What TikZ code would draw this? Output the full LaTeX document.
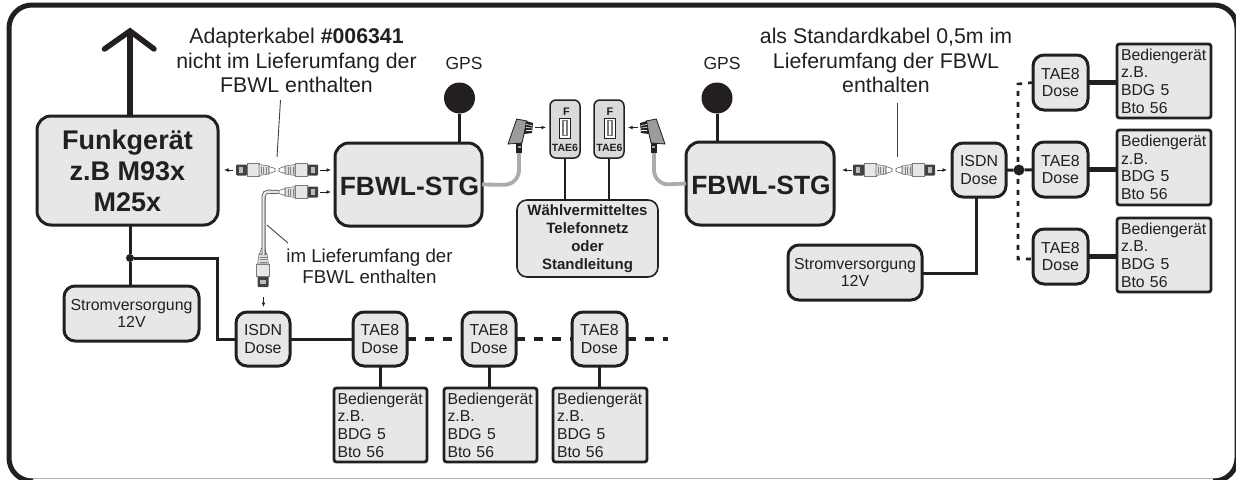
\documentclass[tikz,border=0pt]{standalone}
\usepackage{fontspec}
\setmainfont{Liberation Sans}
\usetikzlibrary{arrows.meta}
\definecolor{ink}{HTML}{231F20}
\definecolor{boxfill}{HTML}{E6E7E8}
\definecolor{tfill}{HTML}{D9DADB}
\definecolor{cablegray}{HTML}{ABABAB}
\newcommand{\fs}[2]{\fontsize{#1}{#2}\selectfont}
\tikzset{
  x=1pt,y=-1pt,
  box/.style={draw=ink,fill=boxfill,line width=3,rounded corners=#1,inner sep=0pt,outer sep=0pt,text=ink,align=center},
  box/.default=13,
  bed/.style={draw=ink,fill=boxfill,line width=2.8,rounded corners=2.5,inner sep=0pt,outer sep=0pt,text=ink,align=left,text width=86,font=\fs{15.8}{17.6}},
  dose/.style={box=11,font=\fs{15.9}{17.5}},
  strom/.style={box=11,font=\fs{15.9}{17.5}},
  stg/.style={box=14,font=\bfseries\fs{26.4}{30},text height=23pt},
  txt/.style={inner sep=0pt,outer sep=0pt,text=ink,align=center},
  wire/.style={draw=ink,line width=3},
  thin wire/.style={draw=ink,line width=1.5},
  thick wire/.style={draw=ink,line width=4.5},
  dash wire/.style={draw=ink,line width=3.8,dash pattern=on 9pt off 9pt},
  dot wire/.style={draw=ink,line width=2.6,dash pattern=on 5pt off 6pt},
  leader/.style={draw=ink!85,line width=0.9},
  mini/.style={draw=ink,line width=1,-{Latex[length=4.5pt,width=4pt]}},
  cable/.style={draw=cablegray,line width=3.8},
  dot/.style={circle,fill=ink,inner sep=0pt,outer sep=0pt,minimum size=#1},
}
% box by outer extents
\newcommand{\bx}[7]{\node[#6,minimum width={#4-#2-2},minimum height={#5-#3-2}] (#1) at ({(#2+#4)/2},{(#3+#5)/2}) {#7};}
% adapter plug: dark end at x=0, tip at x=40
\newcommand{\adplug}[1]{\begin{scope}[#1]
  \fill[ink!85,rounded corners=1] (0,-5.5) rectangle (11,5.5);
  \fill[ink!30] (3,-3) rectangle (7,3);
  \draw[ink!60,fill=boxfill,line width=0.6] (11,-6.5) rectangle (23,6.5);
  \draw[ink!60,fill=ink!15,line width=0.6] (23,-5.5) -- (33,-4) -- (33,4) -- (23,5.5) -- cycle;
  \draw[ink!55,line width=0.5] (25,-3.5) -- (25,3.5) (27.5,-3.5) -- (27.5,3.5) (30,-3.5) -- (30,3.5);
  \draw[ink!75,fill=white,line width=0.6] (33,-3.5) -- (39,-1.5) -- (39,1.5) -- (33,3.5) -- cycle;
\end{scope}}
% TAE plug, drawn for the left side
\newcommand{\taeplug}[1]{\begin{scope}[#1]
  \fill[ink] (516.2,143) rectangle (522.2,153);
  \fill[ink!40] (517.7,146) rectangle (520.7,148);
  \draw[ink,fill=ink!45,line width=0.8] (516.7,119) -- (527,121) -- (524,134) -- (522,143) -- (508,144) -- cycle;
  \fill[ink] (526,121) -- (533,123) -- (532,133) -- (524,134) -- cycle;
  \draw[white,line width=0.6] (526,124.5) -- (532,125.5) (526,127.5) -- (532,128) (526,130.5) -- (532,130.5);
\end{scope}}
\newcommand{\socket}[1]{\begin{scope}[shift={(#1,0)}]
  \draw[ink,fill=white,line width=0.9] (-5.5,118) rectangle (5.5,138);
  \fill[ink!60] (-3,120) rectangle (3,136);
  \fill[white] (-1,121) rectangle (1,135);
\end{scope}}
\begin{document}
\begin{tikzpicture}
\useasboundingbox (0,0) rectangle (1236,479);
\begin{scope}
\clip (0,0) rectangle (1236,479);
% frame
\draw[ink!35,line width=1] (30,478.5) -- (1216,478.5);
\draw[ink,line width=5,rounded corners=23] (33,481) -- (9,481) -- (9,5) -- (1237,5) -- (1237,481) -- (1213,481);
\end{scope}

% ---- boxes
\bx{funk}{36}{115}{219}{226}{box=14,font=\bfseries\fs{27}{31}}{Funkgerät\\z.B M93x\\M25x}
\bx{stromL}{63}{285}{200}{342}{strom}{Stromversorgung\\12V}
\bx{isdnL}{235}{311}{291}{367}{dose}{ISDN\\Dose}
\bx{taeA}{352}{311}{408}{367}{dose}{TAE8\\Dose}
\bx{taeB}{461}{311}{517}{367}{dose}{TAE8\\Dose}
\bx{taeC}{571}{311}{628}{367}{dose}{TAE8\\Dose}
\bx{bedA}{333}{387}{428}{463}{bed}{Bediengerät\\z.B.\\BDG 5\\Bto 56}
\bx{bedB}{443}{387}{538}{463}{bed}{Bediengerät\\z.B.\\BDG 5\\Bto 56}
\bx{bedC}{552}{387}{648}{463}{bed}{Bediengerät\\z.B.\\BDG 5\\Bto 56}
\bx{stgL}{334}{142}{483}{227}{stg}{\hspace*{2pt}FBWL-STG}
\bx{stgR}{685}{141}{835}{226}{stg}{\hspace*{2pt}FBWL-STG}
\bx{netz}{516}{199}{659}{278}{box=10,line width=1.6,font=\bfseries\fs{15}{18}}{Wählvermitteltes\\Telefonnetz\\oder\\Standleitung}
\bx{tsixA}{549}{99}{581}{159}{box=6,line width=1.5,fill=tfill}{}
\bx{tsixB}{593}{99}{625}{159}{box=6,line width=1.5,fill=tfill}{}
\node[txt,font=\bfseries\fs{11}{12},anchor=base] (fA) at (566.5,115) {F};
\node[txt,font=\bfseries\fs{11}{12},anchor=base] (fB) at (610,115) {F};
\node[txt,font=\bfseries\fs{10.5}{12},anchor=base] (tA) at (565,151) {TAE6};
\node[txt,font=\bfseries\fs{10.5}{12},anchor=base] (tB) at (609.5,151) {TAE6};
\socket{565}
\socket{610}
\bx{isdnR}{951}{142}{1007}{198}{dose}{ISDN\\Dose}
\bx{taeT}{1032}{54}{1089}{111}{dose}{TAE8\\Dose}
\bx{taeM}{1032}{141}{1089}{198}{dose}{TAE8\\Dose}
\bx{taeU}{1032}{228}{1089}{285}{dose}{TAE8\\Dose}
\bx{bedT}{1116}{43}{1212}{119}{bed}{Bediengerät\\z.B.\\BDG 5\\Bto 56}
\bx{bedM}{1116}{129}{1212}{206}{bed}{Bediengerät\\z.B.\\BDG 5\\Bto 56}
\bx{bedU}{1116}{217}{1212}{293}{bed}{Bediengerät\\z.B.\\BDG 5\\Bto 56}
\bx{stromR}{787}{244}{923}{301}{strom}{Stromversorgung\\12V}

% ---- GPS
\node[dot=31] (gpsL) at (459.5,98) {};
\node[dot=31] (gpsR) at (717,98) {};
\node[txt,font=\fs{17.5}{17},anchor=base] (gpsLt) at (464,69) {GPS};
\node[txt,font=\fs{17.5}{17},anchor=base] (gpsRt) at (722,69) {GPS};
\draw[wire] (gpsL) -- (gpsL |- stgL.north);
\draw[wire] (gpsR) -- (gpsR |- stgR.north);

% ---- left network
\coordinate (up) at (130,31);
\draw[draw=ink,line width=5.5] (funk.north -| up) -- (up);
\draw[draw=ink,line width=5.5,line cap=round,miter limit=10] (104.5,49) -- (up) -- (154,49);
\node[dot=8] (jL) at (130,258) {};
\draw[wire] (funk.south -| jL) -- (jL) -- (stromL.north -| jL);
\draw[wire] (jL) -- (217,258) |- (isdnL.west);
\draw[wire] (isdnL) -- (taeA);
\draw[dash wire] (taeA.east) -- (taeB.west);
\draw[dash wire] (taeB.east) -- (taeC.west);
\coordinate (endL) at (668,339);
\draw[dash wire] (taeC.east) -- (endL |- taeC.east);
\draw[wire] (taeA.south) -- (bedA.north -| taeA.south);
\draw[wire] (taeB.south) -- (taeB.south |- bedB.north);
\draw[wire] (taeC.south) -- (taeC.south |- bedC.north);

% ---- network box
\draw[thin wire] (tsixA.south) -- (tsixA.south |- netz.north);
\draw[thin wire] (tsixB.south) -- (tsixB.south |- netz.north);

% ---- right network
\node[dot=11] (jR) at (1019,170) {};
\draw[wire] (isdnR) -- (jR) -- (taeM);
\draw[dot wire] (taeT.west) -- (1018,84) -- (1018,259) -- (taeU.west |- 0,259);
\draw[thick wire] (taeT.east) -- (bedT.west |- taeT.east);
\draw[thick wire] (taeM.east) -- (bedM.west |- taeM.east);
\draw[thick wire] (taeU.east) -- (bedU.west |- taeU.east);
\draw[wire] (976,198) |- (stromR.east |- 0,273);

% ---- TAE plugs and cables
\draw[cable,rounded corners=15] (stgL.east) -- (519,185) -- (519,152);
\draw[cable,rounded corners=15] (stgR.west) -- (654,185) -- (654,152);
\taeplug{}
\taeplug{xscale=-1,xshift=-1173}
\coordinate (aA) at (535,127.5); \coordinate (aB) at (546,127.5);
\coordinate (aC) at (638,127.5); \coordinate (aD) at (628,127.5);
\draw[mini] (aA) -- (aB);
\draw[mini] (aC) -- (aD);

% ---- adapter cables
\adplug{shift={(236,170)}}
\adplug{shift={(318,170)},xscale=-1}
\adplug{shift={(318,192)},xscale=-1}
\adplug{shift={(263,287)},rotate=90}
\adplug{shift={(853,170)}}
\adplug{shift={(935,170)},xscale=-1}
\draw[mini] (233,170) -- (224,170);
\draw[mini] (320,170) -- (331,170);
\draw[mini] (320,192) -- (331,192);
\draw[mini] (263.5,297) -- (263.5,307);
\draw[mini] (852,170) -- (842,170);
\draw[mini] (937,170) -- (947,170);
\draw[draw=ink!80,line width=4,rounded corners=5] (278,192) -- (263.5,191.5) -- (263.5,255);
\draw[draw=boxfill,line width=2.4,rounded corners=5] (278,192) -- (263.5,191.5) -- (263.5,255);

% ---- texts and leaders
\node[txt,font=\fs{21.3}{24.5},anchor=north] (lab1) at (296.5,28.5)
  {Adapterkabel \textbf{\#006341}\\nicht im Lieferumfang der\\FBWL enthalten};
\node[txt,font=\fs{18.7}{21.5},anchor=north] (lab2) at (369.5,248.5)
  {im Lieferumfang der\\FBWL enthalten};
\node[txt,font=\fs{21.3}{24.5},anchor=north] (lab3) at (886,28.5)
  {als Standardkabel 0,5m im\\Lieferumfang der FBWL\\enthalten};
\coordinate (ld1a) at (280.5,100); \coordinate (ld1b) at (277,157);
\coordinate (ld2a) at (288,243);   \coordinate (ld2b) at (267,225);
\coordinate (ld3a) at (897,103);   \coordinate (ld3b) at (897,157);
\draw[leader] (ld1a) -- (ld1b);
\draw[leader] (ld2a) -- (ld2b);
\draw[leader] (ld3a) -- (ld3b);
\end{tikzpicture}
\end{document}
